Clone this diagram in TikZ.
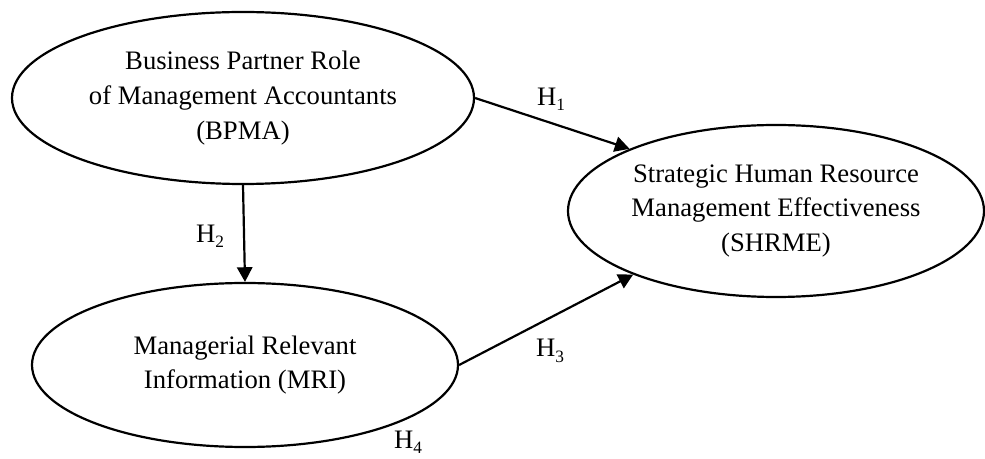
\documentclass[tikz,border=0pt]{standalone}
\usepackage{fontspec}
\setmainfont{Liberation Serif}
\usetikzlibrary{shapes.geometric,arrows.meta}
\newcommand{\hyp}[1]{H\raisebox{-0.2em}{\fontsize{13}{13}\selectfont #1}}
\begin{document}
\begin{tikzpicture}[x=0.75pt,y=-0.75pt,
  construct/.style={ellipse,draw,line width=1.65pt,inner sep=0pt,align=center,
    font=\fontsize{20}{26}\selectfont},
  link/.style={line width=1.65pt,-{Triangle[length=11pt,width=11.5pt]}},
  hlabel/.style={inner sep=0pt,font=\fontsize{20}{24}\selectfont}]
\useasboundingbox (0,0) rectangle (985,459);

% constructs
\node[construct,minimum width=346.5pt,minimum height=129pt] (bpma) at (243,98)
  {Business Partner Role\\of Management Accountants\\(BPMA)};
\node[construct,minimum width=319.5pt,minimum height=123pt] (mri) at (245,365)
  {Managerial Relevant\\Information (MRI)};
\node[construct,minimum width=312pt,minimum height=129pt] (shrme) at (776,211)
  {Strategic Human Resource\\Management Effectiveness\\(SHRME)};

% hypothesised paths
\draw[link] (bpma.east) -- (shrme.157);
\draw[link] (bpma.south) -- (mri.north);
\draw[link] (mri.east) -- (shrme.204);

% path labels
\node[hlabel] (h1) at (551,99) {\hyp{1}};
\node[hlabel] (h2) at (210,236) {\hyp{2}};
\node[hlabel] (h3) at (550,351) {\hyp{3}};
\node[hlabel] (h4) at (408,442) {\hyp{4}};
\end{tikzpicture}
\end{document}
